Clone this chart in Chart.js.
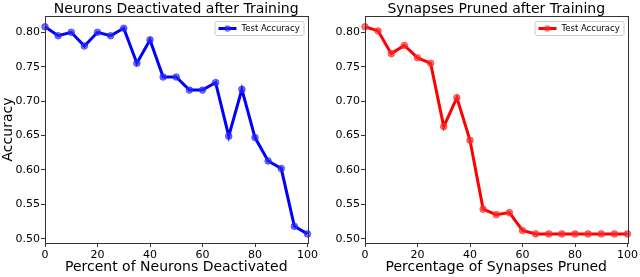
<!DOCTYPE html>
<html>
<head>
<meta charset="utf-8">
<script src="https://cdn.jsdelivr.net/npm/chart.js@4"></script>
<style>
  body { margin: 0; background: #fff; }
  .panel { position: absolute; top: 0; width: 320px; height: 277px; }
</style>
</head>
<body>
<div class="panel" style="left:0"><canvas id="neuronChart" width="320" height="277"></canvas></div>
<div class="panel" style="left:320px"><canvas id="synapseChart" width="320" height="277"></canvas></div>
<script>
// percent removed (x axis)
const percents = [0, 5, 10, 15, 20, 25, 30, 35, 40, 45, 50, 55, 60, 65, 70, 75, 80, 85, 90, 95, 100];

// test accuracy
const neuronAcc = [0.808, 0.795, 0.800, 0.780, 0.800, 0.795, 0.806, 0.755, 0.789, 0.735, 0.735,
                   0.716, 0.716, 0.727, 0.649, 0.717, 0.647, 0.613, 0.602, 0.518, 0.507];
const synapseAcc = [0.808, 0.802, 0.769, 0.781, 0.763, 0.755, 0.663, 0.705, 0.643, 0.543, 0.535,
                    0.538, 0.512, 0.507, 0.507, 0.507, 0.507, 0.507, 0.507, 0.507, 0.507];

const xTicks = [0, 20, 40, 60, 80, 100];
const yTicks = [0.50, 0.55, 0.60, 0.65, 0.70, 0.75, 0.80];

const seriesLabel = "Test Accuracy";
const fontFamily = "'DejaVu Sans', sans-serif";

// frame + title + legend, matplotlib style
const framePlugin = {
    id: "frame",
    afterDraw(chart, args, opts) {
        const ctx = chart.ctx;
        const a = chart.chartArea;
        ctx.save();
        ctx.strokeStyle = "#333";
        ctx.lineWidth = 1;
        ctx.strokeRect(Math.round(a.left) + 0.5, Math.round(a.top) + 0.5,
                       Math.round(a.right - a.left), Math.round(a.bottom - a.top));

        // title
        ctx.fillStyle = "#000";
        ctx.font = "14px " + fontFamily;
        ctx.textAlign = "center";
        ctx.textBaseline = "alphabetic";
        ctx.fillText(opts.title, (a.left + a.right) / 2, 13);

        // legend box
        const color = chart.data.datasets[0].borderColor;
        const bx = a.right - 93, by = a.top + 5, bw = 89, bh = 14;
        ctx.fillStyle = "rgba(255,255,255,0.8)";
        ctx.strokeStyle = "#ccc";
        ctx.beginPath();
        ctx.roundRect(bx + 0.5, by + 0.5, bw, bh, 2);
        ctx.fill();
        ctx.stroke();
        ctx.strokeStyle = color;
        ctx.lineWidth = 3;
        ctx.beginPath();
        ctx.moveTo(bx + 4, by + bh / 2 + 0.5);
        ctx.lineTo(bx + 22, by + bh / 2 + 0.5);
        ctx.stroke();
        ctx.fillStyle = chart.data.datasets[0].pointBackgroundColor;
        ctx.beginPath();
        ctx.arc(bx + 13, by + bh / 2 + 0.5, 3.2, 0, Math.PI * 2);
        ctx.fill();
        ctx.fillStyle = "#000";
        ctx.font = "8.5px " + fontFamily;
        ctx.textAlign = "left";
        ctx.textBaseline = "middle";
        ctx.fillText(chart.data.datasets[0].label, bx + 27, by + bh / 2 + 1);
        ctx.restore();
    }
};

function makeChart(id, values, color, pointColor, title, xTitle, yTitle, padLeft, padRight) {
    const ctx = document.getElementById(id).getContext("2d");
    return new Chart(ctx, {
        type: "line",
        data: {
            labels: percents,
            datasets: [{
                label: seriesLabel,
                data: values.map((v, i) => ({ x: percents[i], y: v })),
                borderColor: color,
                borderWidth: 3,
                pointRadius: 3.3,
                pointBackgroundColor: pointColor,
                pointBorderColor: pointColor,
                pointBorderWidth: 1,
                tension: 0,
                clip: false
            }]
        },
        options: {
            responsive: false,
            animation: false,
            layout: { padding: { top: 16, left: padLeft, right: padRight, bottom: 0 } },
            plugins: {
                legend: { display: false },
                tooltip: { enabled: false },
                frame: { title: title }
            },
            scales: {
                x: {
                    type: "linear",
                    min: 0,
                    max: 100,
                    afterBuildTicks: (scale) => { scale.ticks = xTicks.map(v => ({ value: v })); },
                    afterFit: (scale) => { scale.height = 34; },
                    grid: { display: true, drawOnChartArea: false, drawTicks: true, tickLength: 4, color: "#333" },
                    border: { display: false },
                    ticks: { color: "#000", font: { family: fontFamily, size: 11 }, padding: 2, maxRotation: 0 },
                    title: { display: true, text: xTitle, color: "#000", font: { family: fontFamily, size: 14 }, padding: { top: 0, bottom: 1 } }
                },
                y: {
                    min: 0.4938,
                    max: 0.8237,
                    afterBuildTicks: (scale) => { scale.ticks = yTicks.map(v => ({ value: v })); },
                    afterFit: (scale) => { scale.width = 45; },
                    grid: { display: true, drawOnChartArea: false, drawTicks: true, tickLength: 4, color: "#333" },
                    border: { display: false },
                    ticks: { color: "#000", font: { family: fontFamily, size: 11 }, padding: 1,
                             callback: (v) => Number(v).toFixed(2) },
                    title: { display: yTitle !== "", text: yTitle, color: "#000", font: { family: fontFamily, size: 14 }, padding: { top: 0, bottom: 0 } }
                }
            }
        },
        plugins: [framePlugin]
    });
}

document.addEventListener("DOMContentLoaded", function() {
    makeChart("neuronChart", neuronAcc, "#0000ff", "rgba(40,40,255,0.65)",
              "Neurons Deactivated after Training", "Percent of Neurons Deactivated", "Accuracy", 0, 9);
    makeChart("synapseChart", synapseAcc, "#ff0000", "rgba(255,40,40,0.65)",
              "Synapses Pruned after Training", "Percentage of Synapses Pruned", "", 0, 10);
});
</script>
</body>
</html>
